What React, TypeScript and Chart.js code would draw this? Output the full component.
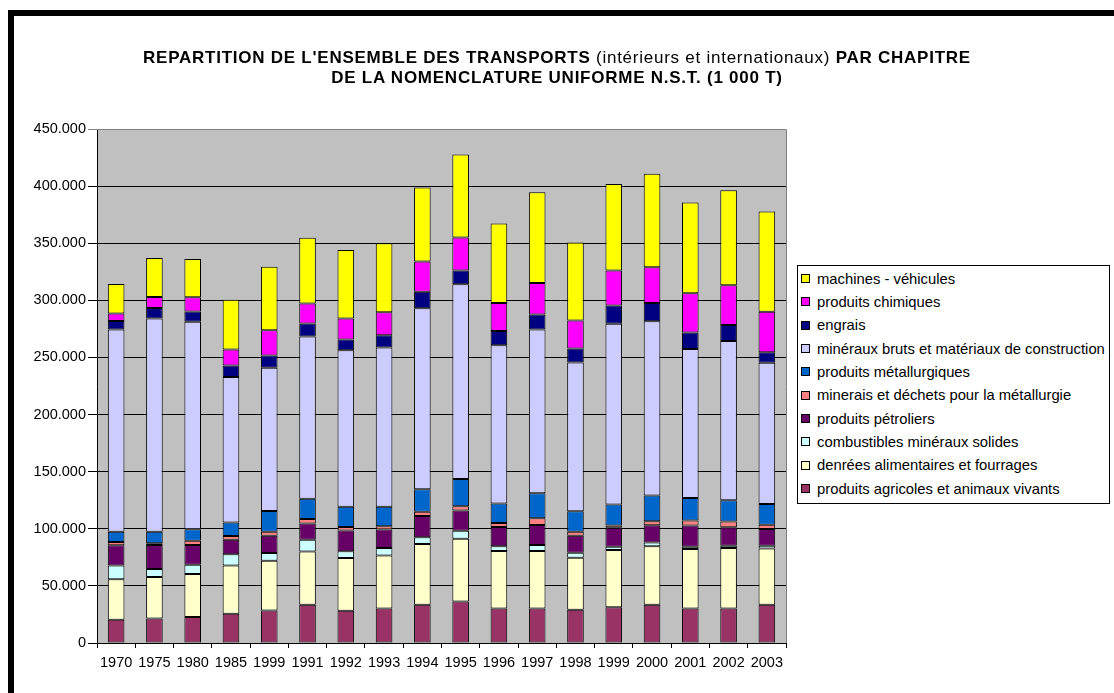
import React, { useEffect, useRef } from 'react';
import { Chart, registerables } from 'chart.js';

Chart.register(...registerables);

const years = ['1970', '1975', '1980', '1985', '1999', '1991', '1992', '1993', '1994', '1995', '1996', '1997', '1998', '1999', '2000', '2001', '2002', '2003'];

const agricoles = [20400, 21500, 22700, 25600, 28400, 33500, 28300, 30200, 33500, 36300, 30200, 30200, 29100, 31400, 33500, 30200, 30200, 33500];
const denrees = [35500, 36300, 37800, 42200, 43500, 46500, 46200, 46500, 53200, 54900, 50300, 50300, 45600, 50000, 51200, 52000, 52900, 49300];
const combustibles = [11900, 7000, 8100, 9900, 7000, 10500, 5800, 6400, 5800, 7000, 4100, 5200, 4400, 2900, 3200, 2000, 2000, 2300];
const petroliers = [17700, 20900, 17200, 12800, 15100, 14200, 18300, 16300, 18600, 17700, 16900, 17700, 14800, 16600, 15100, 18600, 16300, 14600];
const minerais = [2900, 1700, 3800, 3200, 3500, 3800, 2900, 2900, 3800, 3800, 3500, 5800, 3500, 2000, 3500, 4400, 4900, 3800];
const metallurgiques = [9000, 9900, 9900, 11900, 18000, 17700, 17700, 16900, 19800, 23900, 17200, 21800, 18000, 18300, 22700, 19800, 18600, 18100];
const mineraux = [177100, 186700, 181800, 127200, 125500, 142200, 137200, 139500, 158300, 170500, 138400, 143400, 130200, 158200, 152400, 130500, 139600, 123800];
const engrais = [7300, 9300, 9000, 10200, 10800, 11400, 9300, 10800, 14600, 12000, 12600, 13100, 12300, 16100, 16100, 14300, 14000, 9100];
const chimiques = [6700, 9600, 12300, 14000, 21900, 17500, 18400, 20100, 26300, 28900, 24500, 27700, 24500, 30700, 31200, 34500, 34700, 35600];
const machines = [25700, 34200, 33600, 43500, 55800, 57500, 59900, 60400, 64800, 72700, 69500, 79400, 68300, 75600, 82000, 79400, 83200, 87600];

const seriesNames = [
  'produits agricoles et animaux vivants',
  'denrées alimentaires et fourrages',
  'combustibles minéraux solides',
  'produits pétroliers',
  'minerais et déchets pour la métallurgie',
  'produits métallurgiques',
  'minéraux bruts et matériaux de construction',
  'engrais',
  'produits chimiques',
  'machines - véhicules',
];
const seriesData = [agricoles, denrees, combustibles, petroliers, minerais, metallurgiques, mineraux, engrais, chimiques, machines];
const seriesColors = ['#993366', '#FFFFCC', '#CCFFFF', '#660066', '#FF8080', '#0066CC', '#CCCCFF', '#000080', '#FF00FF', '#FFFF00'];

const titleLine1Start = "REPARTITION DE L'ENSEMBLE DES TRANSPORTS ";
const titleLine1Middle = '(intérieurs et internationaux)';
const titleLine1End = ' PAR CHAPITRE';
const titleLine2 = 'DE LA NOMENCLATURE UNIFORME N.S.T. (1 000 T)';

const FONT = "'Liberation Sans', Arial, sans-serif";

const fmt = (v: number) => String(v).replace(/\B(?=(\d{3})+(?!\d))/g, '.');

const plotBg = {
  id: 'plotBg',
  beforeDraw(chart: any) {
    const { ctx, chartArea: a } = chart;
    ctx.save();
    ctx.fillStyle = '#C0C0C0';
    ctx.fillRect(a.left, a.top, a.right - a.left, a.bottom - a.top);
    ctx.restore();
  },
  afterDraw(chart: any) {
    const { ctx, chartArea: a } = chart;
    ctx.save();
    ctx.strokeStyle = '#808080';
    ctx.lineWidth = 1;
    ctx.beginPath();
    ctx.moveTo(a.left, Math.round(a.top) + 0.5);
    ctx.lineTo(Math.round(a.right) + 0.5, Math.round(a.top) + 0.5);
    ctx.lineTo(Math.round(a.right) + 0.5, a.bottom);
    ctx.stroke();
    ctx.restore();
  },
};

export default function App() {
  const ref = useRef<HTMLCanvasElement | null>(null);

  useEffect(() => {
    if (!ref.current) return;
    const chart = new Chart(ref.current, {
      type: 'bar',
      data: {
        labels: years,
        datasets: seriesData.map((d, i) => ({
          label: seriesNames[i],
          data: d,
          backgroundColor: seriesColors[i],
          borderColor: '#000000',
          borderWidth: 1,
          borderSkipped: false,
          categoryPercentage: 1,
          barPercentage: 0.434,
        })),
      },
      options: {
        responsive: false,
        animation: false,
        layout: { padding: { left: 20, right: 328, top: 129, bottom: 20 } },
        plugins: {
          legend: { display: false },
          tooltip: { enabled: false },
          title: { display: false },
        },
        scales: {
          x: {
            stacked: true,
            offset: true,
            grid: { offset: true, drawOnChartArea: false, drawTicks: true, tickLength: 5, color: '#000' },
            border: { color: '#000', width: 1 },
            ticks: { color: '#000', font: { family: FONT, size: 14.5 }, padding: 6, maxRotation: 0, autoSkip: false },
            afterFit: (s: any) => { s.height = 30; },
          },
          y: {
            stacked: true,
            min: 0,
            max: 450000,
            grid: {
              color: (c: any) => (c.tick && c.tick.value === 450000 ? '#808080' : '#000'),
              tickLength: 9,
            },
            border: { color: '#000', width: 1 },
            ticks: { stepSize: 50000, color: '#000', padding: 2, font: { family: FONT, size: 14.5 }, callback: (v: any) => fmt(Number(v)) },
            afterFit: (s: any) => { s.width = 77; },
          },
        },
      },
      plugins: [plotBg],
    });
    return () => chart.destroy();
  }, []);

  const legendOrder = seriesNames.map((_, i) => i).reverse();

  const titleStyle: React.CSSProperties = {
    position: 'absolute',
    left: 0,
    width: 1114,
    textAlign: 'center',
    fontFamily: FONT,
    fontSize: 17,
    lineHeight: '20px',
    letterSpacing: 0.75,
    fontWeight: 'bold',
    color: '#000',
    whiteSpace: 'nowrap',
  };

  return (
    <div style={{ position: 'fixed', left: 0, top: 0, width: 1114, height: 693, background: '#fff', overflow: 'hidden' }}>
      <div style={{ position: 'absolute', left: 8, top: 10, right: -20, bottom: -20, borderLeft: '6px solid #000', borderTop: '6px solid #000' }} />
      <canvas ref={ref} width={1114} height={693} style={{ position: 'absolute', left: 0, top: 0, width: 1114, height: 693 }} />
      <div style={{ ...titleStyle, top: 48 }}>
        {titleLine1Start}
        <span style={{ fontWeight: 'normal' }}>{titleLine1Middle}</span>
        {titleLine1End}
      </div>
      <div style={{ ...titleStyle, top: 68 }}>{titleLine2}</div>
      <div
        style={{
          position: 'absolute',
          left: 797,
          top: 265,
          width: 311,
          height: 236,
          border: '1px solid #000',
          background: '#fff',
          fontFamily: FONT,
          fontSize: 14.8,
          color: '#000',
          paddingTop: 1,
          boxSizing: 'content-box',
        }}
      >
        {legendOrder.map((i) => (
          <div key={i} style={{ height: 23.33, display: 'flex', alignItems: 'center', whiteSpace: 'nowrap' }}>
            <span style={{ display: 'inline-block', width: 7, height: 7, marginLeft: 3, marginRight: 7, background: seriesColors[i], border: '1px solid #000', flexShrink: 0 }} />
            <span>{seriesNames[i]}</span>
          </div>
        ))}
      </div>
    </div>
  );
}
